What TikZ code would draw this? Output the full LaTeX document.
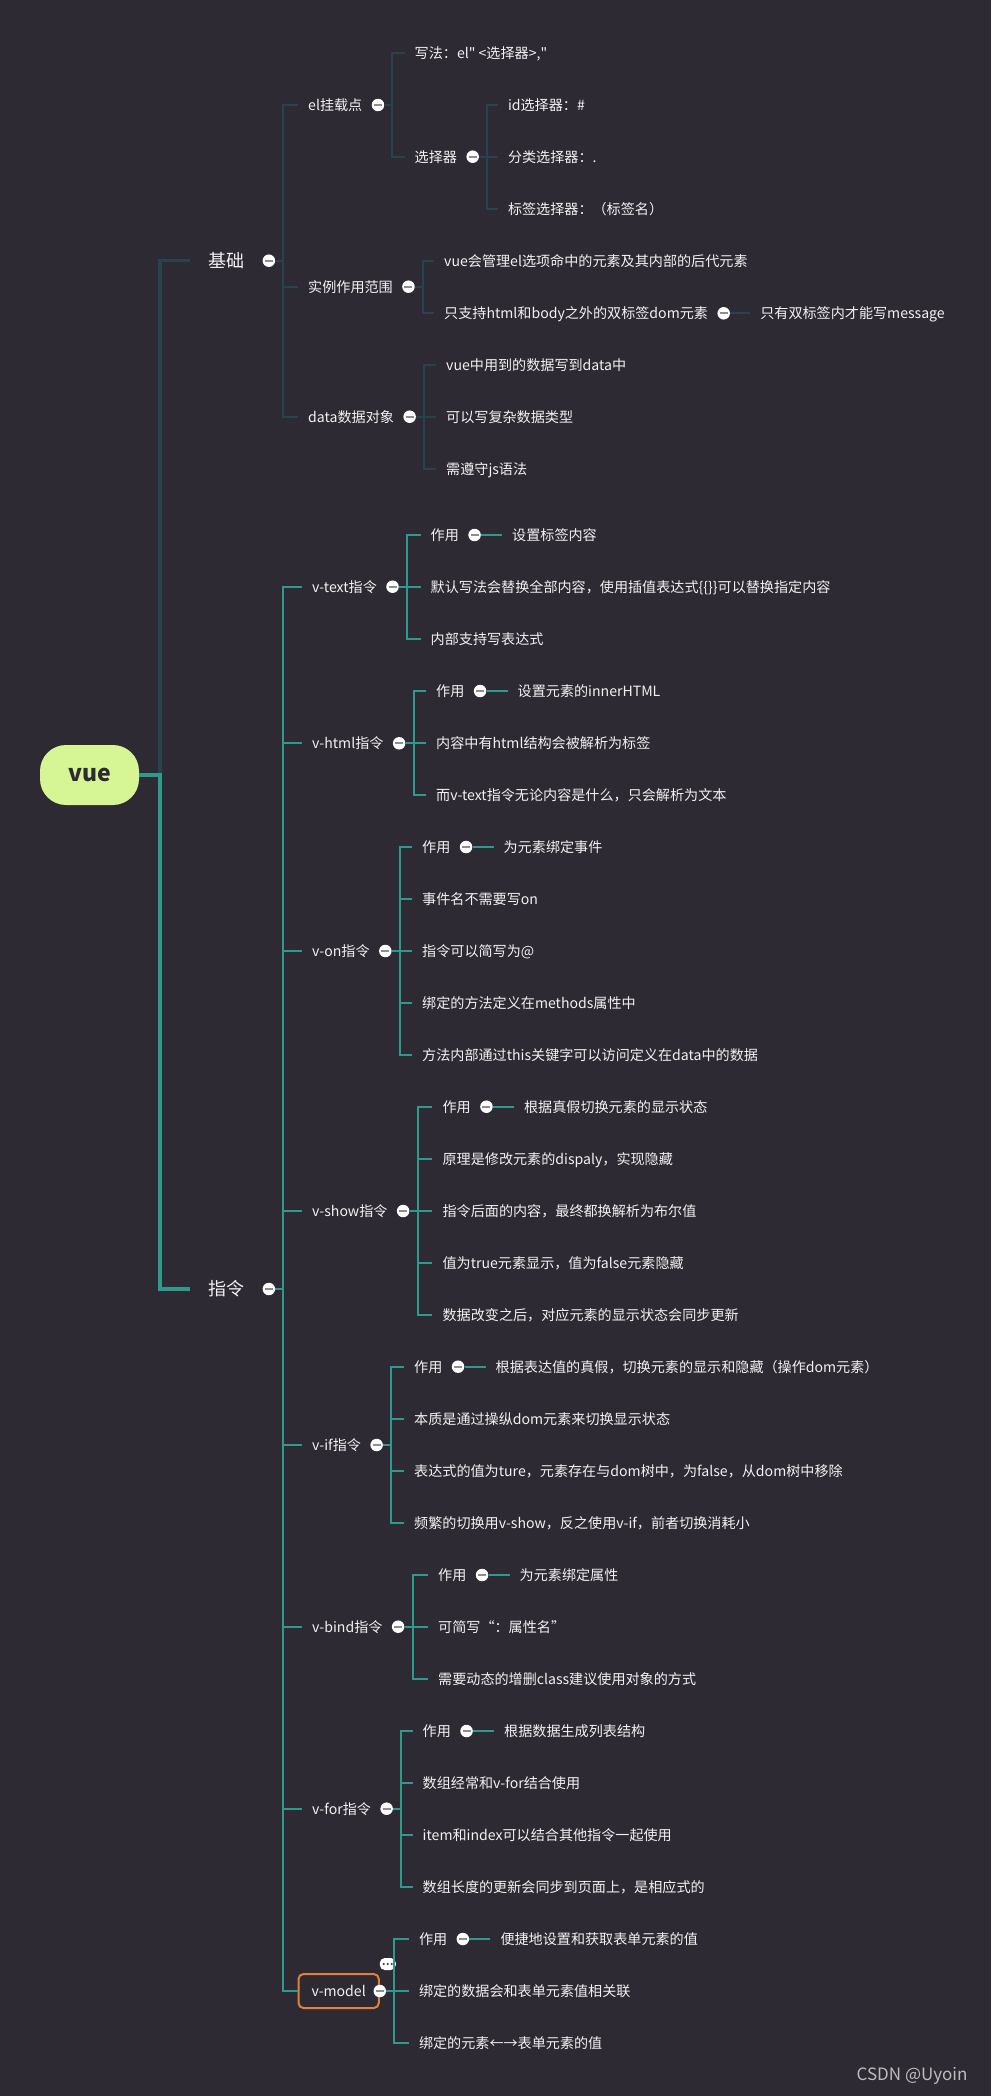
\documentclass[tikz,border=0pt]{standalone}
\usepackage{fontspec}
\setmainfont{Noto Sans CJK SC}
\usetikzlibrary{positioning, calc}
\definecolor{MapBg}{HTML}{2D2A33}
\definecolor{MapText}{HTML}{F2F2F2}
\definecolor{BaseLine}{HTML}{27434F}
\definecolor{CmdLine}{HTML}{2E9A8E}
\definecolor{VueGreen}{HTML}{D6F595}
\definecolor{FoldGrey}{HTML}{8E8E8E}
\definecolor{FocusOrange}{HTML}{E0813A}
\definecolor{MarkGrey}{HTML}{BDBDBD}
\tikzset{
    % Topic texts
    topic/.style={
        anchor=west,
        inner xsep=0pt,
        inner ysep=1pt,
        text height=12pt,
        text depth=1pt,
        text=MapText,
        font=\fontsize{14.1}{17}\selectfont
    },
    main topic/.style={
        topic,
        text height=14.5pt,
        text depth=0.8pt,
        font=\fontsize{18}{21}\selectfont
    },
    root topic/.style={
        rectangle,
        rounded corners=26pt,
        fill=VueGreen,
        text=MapBg,
        minimum width=99pt,
        minimum height=60pt,
        font=\fontsize{23}{27}\selectfont\bfseries
    },
    focus topic/.style={
        topic,
        draw=FocusOrange,
        line width=2pt,
        rounded corners=5pt,
        inner xsep=13pt,
        minimum height=34pt
    },
    % Collapse marks
    fold icon/.style={
        circle,
        fill=white,
        minimum size=12.5pt,
        inner sep=0pt,
        path picture={\draw[FoldGrey, line width=2.2pt]
            ([xshift=-4pt]path picture bounding box.center) --
            ([xshift=4pt]path picture bounding box.center);}
    },
    more icon/.style={
        rectangle,
        rounded corners=5pt,
        fill=white,
        minimum width=16pt,
        minimum height=12pt,
        inner sep=0pt,
        path picture={\foreach \dx in {-4,0,4}
            \fill[MapBg] ([xshift=\dx pt]path picture bounding box.center) circle (1.1pt);}
    },
    % Connectors
    base link/.style={draw=BaseLine, line width=2pt, shorten >=10pt},
    cmd link/.style={draw=CmdLine, line width=2pt, shorten >=10pt},
    base trunk/.style={draw=BaseLine, line width=3.5pt, shorten >=18pt},
    cmd trunk/.style={draw=CmdLine, line width=3.5pt, shorten >=18pt}
}
\begin{document}
\begin{tikzpicture}[x=1pt, y=-1pt]
    % Page
    \fill[MapBg] (0,0) rectangle (991,2096);
    \useasboundingbox (0,0) rectangle (991,2096);

    % Root
    \node[root topic] (vue) at (89.5,775) {vue};

    % Main branches
    \node[main topic] (basics) at (208,260.7) {基础};
    \node[fold icon, right=18pt of basics] (basicsF) {};
    \node[main topic] (directives) at (208,1289) {指令};
    \node[fold icon, right=18pt of directives] (directivesF) {};
    \draw[base trunk] (vue.east) -- ++(21,0) |- (basics.west);
    \draw[cmd trunk] (vue.east) -- ++(21,0) |- (directives.west);

    % 基础
    \node[topic] (elMount) at (308,105) {el挂载点};
    \node[fold icon, right=9pt of elMount] (elMountF) {};
    \node[topic] (scopeRange) at (308,286.7) {实例作用范围};
    \node[fold icon, right=9pt of scopeRange] (scopeRangeF) {};
    \node[topic] (dataObj) at (308,416.7) {data数据对象};
    \node[fold icon, right=9pt of dataObj] (dataObjF) {};
    \draw[base link] (basicsF.east) -- ++(8,0) |- (elMount.west);
    \draw[base link] (basicsF.east) -- ++(8,0) |- (scopeRange.west);
    \draw[base link] (basicsF.east) -- ++(8,0) |- (dataObj.west);

    \node[topic] (elSyntax) at (414.5,53.3) {写法：el\textquotedbl{} <选择器>,\textquotedbl};
    \node[topic] (selector) at (414.5,156.7) {选择器};
    \node[fold icon, right=9pt of selector] (selectorF) {};
    \draw[base link] (elMountF.east) -- ++(8,0) |- (elSyntax.west);
    \draw[base link] (elMountF.east) -- ++(8,0) |- (selector.west);

    \node[topic] (selId) at (507.8,105) {id选择器：\#};
    \node[topic] (selClass) at (507.8,156.7) {分类选择器：.};
    \node[topic] (selTag) at (507.8,208.7) {标签选择器：（标签名）};
    \draw[base link] (selectorF.east) -- ++(8,0) |- (selId.west);
    \draw[base link] (selectorF.east) -- ++(8,0) |- (selClass.west);
    \draw[base link] (selectorF.east) -- ++(8,0) |- (selTag.west);

    \node[topic] (scopeManage) at (444,260.7) {vue会管理el选项命中的元素及其内部的后代元素};
    \node[topic] (scopeOnly) at (444,313.3) {只支持html和body之外的双标签dom元素};
    \node[fold icon, right=9pt of scopeOnly] (scopeOnlyF) {};
    \node[topic, right=30pt of scopeOnlyF] (scopeMsg) {只有双标签内才能写message};
    \draw[base link] (scopeRangeF.east) -- ++(8,0) |- (scopeManage.west);
    \draw[base link] (scopeRangeF.east) -- ++(8,0) |- (scopeOnly.west);
    \draw[base link] (scopeOnlyF.east) -- (scopeMsg.west);

    \node[topic] (dataWrite) at (446,365) {vue中用到的数据写到data中};
    \node[topic] (dataComplex) at (446,416.7) {可以写复杂数据类型};
    \node[topic] (dataJs) at (446,469.3) {需遵守js语法};
    \draw[base link] (dataObjF.east) -- ++(8,0) |- (dataWrite.west);
    \draw[base link] (dataObjF.east) -- ++(8,0) |- (dataComplex.west);
    \draw[base link] (dataObjF.east) -- ++(8,0) |- (dataJs.west);

    % 指令
    \node[topic] (vText) at (312,586.7) {v-text指令};
    \node[fold icon, right=9pt of vText] (vTextF) {};
    \node[topic] (vHtml) at (312,743.3) {v-html指令};
    \node[fold icon, right=9pt of vHtml] (vHtmlF) {};
    \node[topic] (vOn) at (312,951) {v-on指令};
    \node[fold icon, right=9pt of vOn] (vOnF) {};
    \node[topic] (vShow) at (312,1211) {v-show指令};
    \node[fold icon, right=9pt of vShow] (vShowF) {};
    \node[topic] (vIf) at (312,1445) {v-if指令};
    \node[fold icon, right=9pt of vIf] (vIfF) {};
    \node[topic] (vBind) at (312,1626.7) {v-bind指令};
    \node[fold icon, right=9pt of vBind] (vBindF) {};
    \node[topic] (vFor) at (312,1808.7) {v-for指令};
    \node[fold icon, right=9pt of vFor] (vForF) {};
    \node[focus topic] (vModel) at (297.5,1991) {v-model};
    \node[fold icon] (vModelF) at (vModel.east) {};
    \node[more icon] (vModelMore) at ([xshift=8pt,yshift=9pt]vModel.north east) {};
    \draw[cmd link] (directivesF.east) -- ++(8,0) |- (vText.west);
    \draw[cmd link] (directivesF.east) -- ++(8,0) |- (vHtml.west);
    \draw[cmd link] (directivesF.east) -- ++(8,0) |- (vOn.west);
    \draw[cmd link] (directivesF.east) -- ++(8,0) |- (vShow.west);
    \draw[cmd link] (directivesF.east) -- ++(8,0) |- (vIf.west);
    \draw[cmd link] (directivesF.east) -- ++(8,0) |- (vBind.west);
    \draw[cmd link] (directivesF.east) -- ++(8,0) |- (vFor.west);
    \draw[cmd link, shorten >=0pt] (directivesF.east) -- ++(8,0) |- (vModel.west);

    % v-text
    \node[topic] (vTextUse) at (430.5,535) {作用};
    \node[fold icon, right=9pt of vTextUse] (vTextUseF) {};
    \node[topic, right=31pt of vTextUseF] (vTextUseDesc) {设置标签内容};
    \node[topic] (vTextDefault) at (430.5,586.7) {默认写法会替换全部内容，使用插值表达式\{\{\}\}可以替换指定内容};
    \node[topic] (vTextExpr) at (430.5,639) {内部支持写表达式};
    \draw[cmd link] (vTextF.east) -- ++(8,0) |- (vTextUse.west);
    \draw[cmd link] (vTextF.east) -- ++(8,0) |- (vTextDefault.west);
    \draw[cmd link] (vTextF.east) -- ++(8,0) |- (vTextExpr.west);
    \draw[cmd link] (vTextUseF.east) -- (vTextUseDesc.west);

    % v-html
    \node[topic] (vHtmlUse) at (436,691) {作用};
    \node[fold icon, right=9pt of vHtmlUse] (vHtmlUseF) {};
    \node[topic, right=31pt of vHtmlUseF] (vHtmlUseDesc) {设置元素的innerHTML};
    \node[topic] (vHtmlParse) at (436,743.3) {内容中有html结构会被解析为标签};
    \node[topic] (vHtmlVsText) at (436,795) {而v-text指令无论内容是什么，只会解析为文本};
    \draw[cmd link] (vHtmlF.east) -- ++(8,0) |- (vHtmlUse.west);
    \draw[cmd link] (vHtmlF.east) -- ++(8,0) |- (vHtmlParse.west);
    \draw[cmd link] (vHtmlF.east) -- ++(8,0) |- (vHtmlVsText.west);
    \draw[cmd link] (vHtmlUseF.east) -- (vHtmlUseDesc.west);

    % v-on
    \node[topic] (vOnUse) at (422,847) {作用};
    \node[fold icon, right=9pt of vOnUse] (vOnUseF) {};
    \node[topic, right=31pt of vOnUseF] (vOnUseDesc) {为元素绑定事件};
    \node[topic] (vOnName) at (422,899) {事件名不需要写on};
    \node[topic] (vOnShort) at (422,951) {指令可以简写为@};
    \node[topic] (vOnMethods) at (422,1003) {绑定的方法定义在methods属性中};
    \node[topic] (vOnThis) at (422,1055) {方法内部通过this关键字可以访问定义在data中的数据};
    \draw[cmd link] (vOnF.east) -- ++(8,0) |- (vOnUse.west);
    \draw[cmd link] (vOnF.east) -- ++(8,0) |- (vOnName.west);
    \draw[cmd link] (vOnF.east) -- ++(8,0) |- (vOnShort.west);
    \draw[cmd link] (vOnF.east) -- ++(8,0) |- (vOnMethods.west);
    \draw[cmd link] (vOnF.east) -- ++(8,0) |- (vOnThis.west);
    \draw[cmd link] (vOnUseF.east) -- (vOnUseDesc.west);

    % v-show
    \node[topic] (vShowUse) at (442.4,1106.7) {作用};
    \node[fold icon, right=9pt of vShowUse] (vShowUseF) {};
    \node[topic, right=31pt of vShowUseF] (vShowUseDesc) {根据真假切换元素的显示状态};
    \node[topic] (vShowDisplay) at (442.4,1159) {原理是修改元素的dispaly，实现隐藏};
    \node[topic] (vShowBool) at (442.4,1211) {指令后面的内容，最终都换解析为布尔值};
    \node[topic] (vShowValue) at (442.4,1263) {值为true元素显示，值为false元素隐藏};
    \node[topic] (vShowSync) at (442.4,1315) {数据改变之后，对应元素的显示状态会同步更新};
    \draw[cmd link] (vShowF.east) -- ++(8,0) |- (vShowUse.west);
    \draw[cmd link] (vShowF.east) -- ++(8,0) |- (vShowDisplay.west);
    \draw[cmd link] (vShowF.east) -- ++(8,0) |- (vShowBool.west);
    \draw[cmd link] (vShowF.east) -- ++(8,0) |- (vShowValue.west);
    \draw[cmd link] (vShowF.east) -- ++(8,0) |- (vShowSync.west);
    \draw[cmd link] (vShowUseF.east) -- (vShowUseDesc.west);

    % v-if
    \node[topic] (vIfUse) at (414,1366.7) {作用};
    \node[fold icon, right=9pt of vIfUse] (vIfUseF) {};
    \node[topic, right=31pt of vIfUseF] (vIfUseDesc) {根据表达值的真假，切换元素的显示和隐藏（操作dom元素）};
    \node[topic] (vIfDom) at (414,1419) {本质是通过操纵dom元素来切换显示状态};
    \node[topic] (vIfTree) at (414,1471) {表达式的值为ture，元素存在与dom树中，为false，从dom树中移除};
    \node[topic] (vIfCost) at (414,1523) {频繁的切换用v-show，反之使用v-if，前者切换消耗小};
    \draw[cmd link] (vIfF.east) -- ++(8,0) |- (vIfUse.west);
    \draw[cmd link] (vIfF.east) -- ++(8,0) |- (vIfDom.west);
    \draw[cmd link] (vIfF.east) -- ++(8,0) |- (vIfTree.west);
    \draw[cmd link] (vIfF.east) -- ++(8,0) |- (vIfCost.west);
    \draw[cmd link] (vIfUseF.east) -- (vIfUseDesc.west);

    % v-bind
    \node[topic] (vBindUse) at (438,1575) {作用};
    \node[fold icon, right=9pt of vBindUse] (vBindUseF) {};
    \node[topic, right=31pt of vBindUseF] (vBindUseDesc) {为元素绑定属性};
    \node[topic] (vBindShort) at (438,1626.7) {可简写“：属性名”};
    \node[topic] (vBindClass) at (438,1679) {需要动态的增删class建议使用对象的方式};
    \draw[cmd link] (vBindF.east) -- ++(8,0) |- (vBindUse.west);
    \draw[cmd link] (vBindF.east) -- ++(8,0) |- (vBindShort.west);
    \draw[cmd link] (vBindF.east) -- ++(8,0) |- (vBindClass.west);
    \draw[cmd link] (vBindUseF.east) -- (vBindUseDesc.west);

    % v-for
    \node[topic] (vForUse) at (422.5,1731) {作用};
    \node[fold icon, right=9pt of vForUse] (vForUseF) {};
    \node[topic, right=31pt of vForUseF] (vForUseDesc) {根据数据生成列表结构};
    \node[topic] (vForArray) at (422.5,1783) {数组经常和v-for结合使用};
    \node[topic] (vForIndex) at (422.5,1835) {item和index可以结合其他指令一起使用};
    \node[topic] (vForSync) at (422.5,1887) {数组长度的更新会同步到页面上，是相应式的};
    \draw[cmd link] (vForF.east) -- ++(8,0) |- (vForUse.west);
    \draw[cmd link] (vForF.east) -- ++(8,0) |- (vForArray.west);
    \draw[cmd link] (vForF.east) -- ++(8,0) |- (vForIndex.west);
    \draw[cmd link] (vForF.east) -- ++(8,0) |- (vForSync.west);
    \draw[cmd link] (vForUseF.east) -- (vForUseDesc.west);

    % v-model
    \node[topic] (vModelUse) at (418.8,1939) {作用};
    \node[fold icon, right=9pt of vModelUse] (vModelUseF) {};
    \node[topic, right=31pt of vModelUseF] (vModelUseDesc) {便捷地设置和获取表单元素的值};
    \node[topic] (vModelBind) at (418.8,1991) {绑定的数据会和表单元素值相关联};
    \node[topic] (vModelPair) at (418.8,2042.7) {绑定的元素←→表单元素的值};
    \draw[cmd link] (vModelF.east) -- ++(8,0) |- (vModelUse.west);
    \draw[cmd link] (vModelF.east) -- ++(8,0) |- (vModelBind.west);
    \draw[cmd link] (vModelF.east) -- ++(8,0) |- (vModelPair.west);
    \draw[cmd link] (vModelUseF.east) -- (vModelUseDesc.west);

    % Watermark
    \node[topic, text=MarkGrey, text height=13pt, text depth=3pt, font=\fontsize{17}{20}\selectfont] (watermark) at (856.5,2075.7) {CSDN @Uyoin};
\end{tikzpicture}
\end{document}
